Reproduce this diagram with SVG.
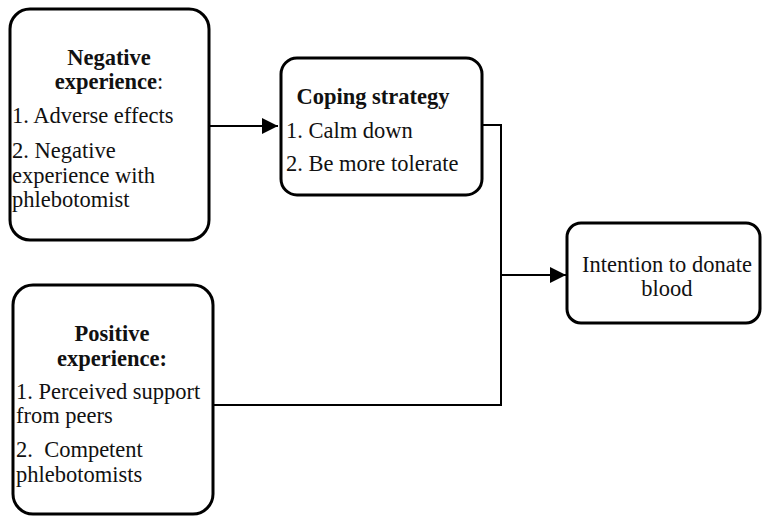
<svg xmlns="http://www.w3.org/2000/svg" width="762" height="516" viewBox="0 0 762 516">
<defs>
<style>
.box{fill:#fff;stroke:#000;stroke-width:3}
.t{font-family:"Liberation Serif","Times New Roman",serif;font-size:22.5px;fill:#111}
.b{font-weight:bold}
.c{text-anchor:middle}
.ln{fill:none;stroke:#000;stroke-width:2}
</style>
<marker id="ah2" viewBox="0 0 10 10" refX="10" refY="5" markerWidth="16" markerHeight="16" markerUnits="userSpaceOnUse" orient="auto">
<path d="M0,0 L10,5 L0,10 z" fill="#000"/>
</marker>
</defs>
<g id="connectors">
<path class="ln" d="M209,126 H278" marker-end="url(#ah2)"/>
<path class="ln" d="M482,125 H501 V406"/>
<path class="ln" d="M213,405 H501"/>
<path class="ln" d="M501,275 H566" marker-end="url(#ah2)"/>
</g>
<g id="negative">
<rect class="box" x="10" y="9" width="199" height="231" rx="20"/>
<text class="t b c" x="109" y="65">Negative</text>
<text class="t c" x="109" y="89"><tspan class="b">experience</tspan>:</text>
<text class="t" x="12" y="123">1. Adverse effects</text>
<text class="t" x="12" y="158">2. Negative</text>
<text class="t" x="12" y="183">experience with</text>
<text class="t" x="12" y="207">phlebotomist</text>
</g>
<g id="coping">
<rect class="box" x="281" y="58" width="201" height="137" rx="16"/>
<text class="t b c" x="373" y="104">Coping strategy</text>
<text class="t" x="286" y="138">1. Calm down</text>
<text class="t" x="286" y="171">2. Be more tolerate</text>
</g>
<g id="positive">
<rect class="box" x="13" y="285" width="200" height="229" rx="20"/>
<text class="t b c" x="112" y="341">Positive</text>
<text class="t b c" x="112" y="366">experience:</text>
<text class="t" x="16" y="399">1. Perceived support</text>
<text class="t" x="16" y="423">from peers</text>
<text class="t" x="16" y="457" xml:space="preserve">2.  Competent</text>
<text class="t" x="16" y="482">phlebotomists</text>
</g>
<g id="intention">
<rect class="box" x="567" y="223" width="193" height="100" rx="14"/>
<text class="t c" x="667" y="272">Intention to donate</text>
<text class="t c" x="667" y="296">blood</text>
</g>
</svg>
